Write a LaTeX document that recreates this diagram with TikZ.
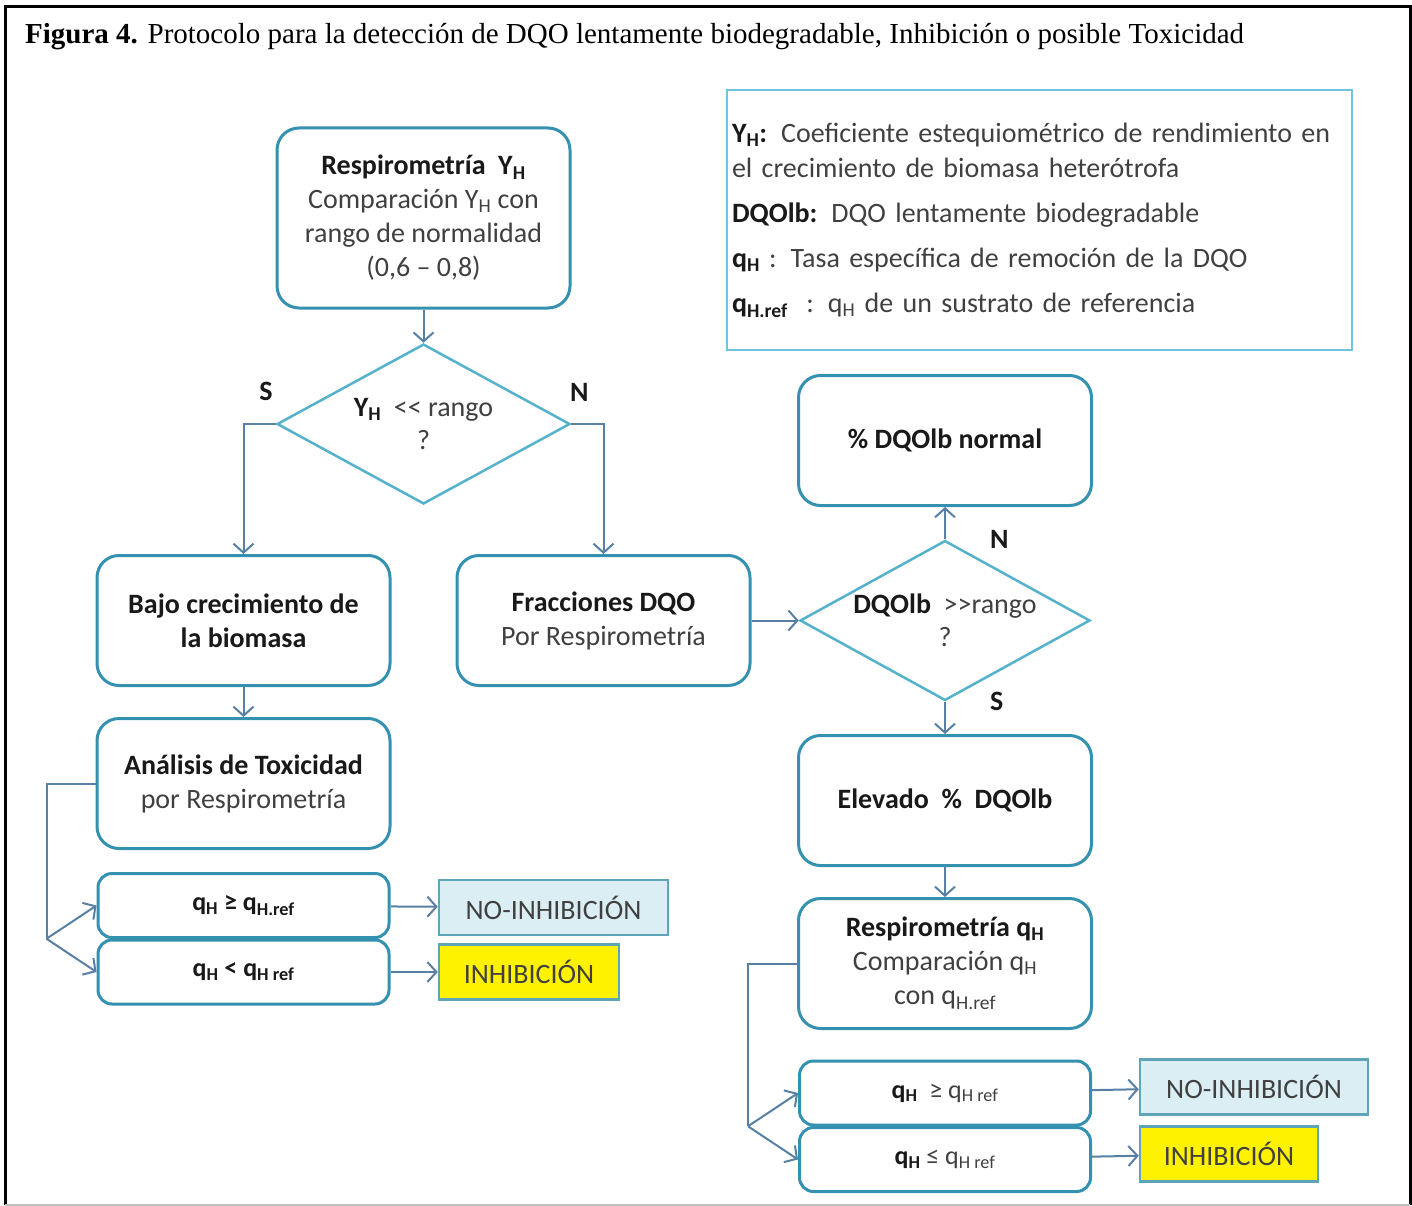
\documentclass[tikz,border=0pt]{standalone}
\usepackage{fontspec}
\setmainfont{Liberation Serif}
\newfontfamily\calib{Carlito}
\usepackage{tikz}
\usetikzlibrary{shapes.geometric, arrows.meta, positioning, calc}

\definecolor{boxc}{RGB}{52,145,176}
\definecolor{diac}{RGB}{84,178,204}
\definecolor{linec}{RGB}{88,128,165}
\definecolor{legc}{RGB}{110,196,226}
\definecolor{noinhc}{RGB}{218,238,243}
\definecolor{txtc}{RGB}{64,64,64}

\newcommand{\lowidx}[1]{\textsubscript{#1}}
\newcommand{\bhead}[1]{\textcolor{black!90}{\bfseries #1}}

\tikzstyle{block} = [rectangle, draw=boxc, line width=3pt, rounded corners=22pt, fill=white,
text=txtc, align=center, minimum width=293pt, minimum height=130pt, font=\calib\fontsize{28}{34}\selectfont]
\tikzstyle{blockq} = [block, rounded corners=14pt, minimum width=291pt, minimum height=64pt, font=\calib\fontsize{26}{30}\selectfont]
\tikzstyle{decision} = [diamond, draw=diac, line width=2.5pt, fill=white, inner sep=0pt,
minimum width=293pt, minimum height=160pt]
\tikzstyle{dtext} = [text=txtc, align=center, font=\calib\fontsize{28}{33}\selectfont]
\tikzstyle{result} = [rectangle, draw=diac!75!gray, line width=2.5pt, text=txtc, minimum height=55pt, font=\calib\fontsize{28}{34}\selectfont]
\tikzstyle{legend} = [rectangle, draw=legc, line width=2pt, minimum width=625pt, minimum height=260pt,
inner sep=5pt, text width=615pt, align=left, text=txtc, font=\calib\fontsize{28}{35}\selectfont]
\tikzstyle{lbl} = [inner sep=0pt, text=black!90, font=\calib\bfseries\fontsize{28}{34}\selectfont]
\tikzstyle{line} = [draw=linec, line width=2pt, -{Straight Barb[length=9pt, width=20pt]}]

\begin{document}
\begin{tikzpicture}[x=1pt, y=-1pt, node distance=163pt]
	\useasboundingbox (0,0) rectangle (1412,1206);
	% frame and title
	\draw [black, line width=3pt] (5,1205) -- (5,7) -- (1410,7) -- (1410,1205);
	\draw [black!25, line width=2pt] (5,1205) -- (1410,1205);
	\node [anchor=west, inner sep=0pt, font=\fontsize{29}{34}\selectfont] (title) at (25,37)
		{\textbf{Figura 4.} Protocolo para la detección de DQO lentamente biodegradable, Inhibición o posible Toxicidad};
	
	% Place nodes
	\node [block, minimum height=180pt] (resp) at (423.5,218)
		{\bhead{Respirometría~~Y\lowidx{H}}\\ Comparación Y\lowidx{H} con\\ rango de normalidad\\ (0,6 – 0,8)};
	\node [decision, below of=resp, yshift=-43pt, label={[dtext]center:\bhead{Y\lowidx{H}}~~<< rango\\ ?}] (dec1) {};
	\node [block, below of=dec1, xshift=-180pt, yshift=-33.5pt] (bajo) {\bhead{Bajo crecimiento de}\\ \bhead{la biomasa}};
	\node [block, below of=dec1, xshift=180pt, yshift=-33.5pt] (fracc) {\bhead{Fracciones DQO}\\ Por Respirometría};
	\node [block, below of=bajo] (anal) {\bhead{Análisis de Toxicidad}\\ por Respirometría};
	\node [blockq, below of=anal, yshift=41pt] (qge1) {\bhead{q\lowidx{H} ≥ q\lowidx{H.ref}}};
	\node [blockq, below of=qge1, yshift=96.5pt] (qlt1) {\bhead{q\lowidx{H} < q\lowidx{H ref}}};
	\node [result, fill=noinhc, minimum width=229pt, right of=qge1, xshift=147pt, yshift=-2pt] (noinh1) {NO-INHIBICIÓN};
	\node [result, fill=yellow, minimum width=180pt, right of=qlt1, xshift=122.5pt] (inh1) {INHIBICIÓN};
	
	\node [decision, minimum width=290pt, right of=fracc, xshift=178.5pt, label={[dtext]center:\bhead{DQOlb}~~>>rango\\ ?}] (dec2) {};
	\node [block, above of=dec2, yshift=17pt] (normal) {\bhead{\% DQOlb normal}};
	\node [block, below of=dec2, yshift=-17pt] (elev) {\bhead{Elevado~~\%~~DQOlb}};
	\node [block, below of=elev] (respq) {\bhead{Respirometría q\lowidx{H}}\\ Comparación q\lowidx{H}\\ con q\lowidx{H.ref}};
	\node [blockq, below of=respq, yshift=33.5pt] (qge2) {\bhead{q\lowidx{H}}~~≥ q\lowidx{H ref}};
	\node [blockq, below of=qge2, yshift=96.5pt] (qle2) {\bhead{q\lowidx{H}} ≤ q\lowidx{H ref}};
	\node [result, fill=noinhc, minimum width=228pt, right of=qge2, xshift=146pt, yshift=6pt] (noinh2) {NO-INHIBICIÓN};
	\node [result, fill=yellow, minimum width=178pt, right of=qle2, xshift=121pt, yshift=5.5pt] (inh2) {INHIBICIÓN};
	
	\node [legend] (legend) at (1039.5,220)
		{\bhead{Y\lowidx{H}:} Coeficiente estequiométrico de rendimiento en\\
		el crecimiento de biomasa heterótrofa\\[10pt]
		\bhead{DQOlb:} DQO lentamente biodegradable\\[10pt]
		\bhead{q\lowidx{H}} : Tasa específica de remoción de la DQO\\[10pt]
		\bhead{q\lowidx{H.ref}}~ : q\lowidx{H} de un sustrato de referencia};
	
	\coordinate (fork1) at ($(qge1.west)!0.5!(qlt1.west)+(-50,0)$);
	\coordinate (fork2) at ($(qge2.west)!0.5!(qle2.west)+(-50,0)$);
	
	% Draw edges
	\path [line] (resp) -- (dec1);
	\path [line] (dec1.west) -| node[lbl, pos=0.15, above=22pt] {S} (bajo.north);
	\path [line] (dec1.east) -| node[lbl, pos=0.125, above=22pt] {N} (fracc.north);
	\path [line] (bajo) -- (anal);
	\path [line] (fracc) -- (dec2);
	\path [line] (dec2) -- node[lbl, pos=0, right=44pt] {N} (normal);
	\path [line] (dec2) -- node[lbl, pos=0, right=44pt] {S} (elev);
	\path [line] (elev) -- (respq);
	
	\draw [linec, line width=2pt] (anal.west) -| (fork1);
	\path [line] (fork1) -- (qge1.west);
	\path [line] (fork1) -- (qlt1.west);
	\path [line] (qge1) -- (noinh1);
	\path [line] (qlt1) -- (inh1);
	
	\draw [linec, line width=2pt] (respq.west) -| (fork2);
	\path [line] (fork2) -- (qge2.west);
	\path [line] (fork2) -- (qle2.west);
	\path [line] (qge2) -- (noinh2);
	\path [line] (qle2) -- (inh2);
	
\end{tikzpicture}
\end{document}
